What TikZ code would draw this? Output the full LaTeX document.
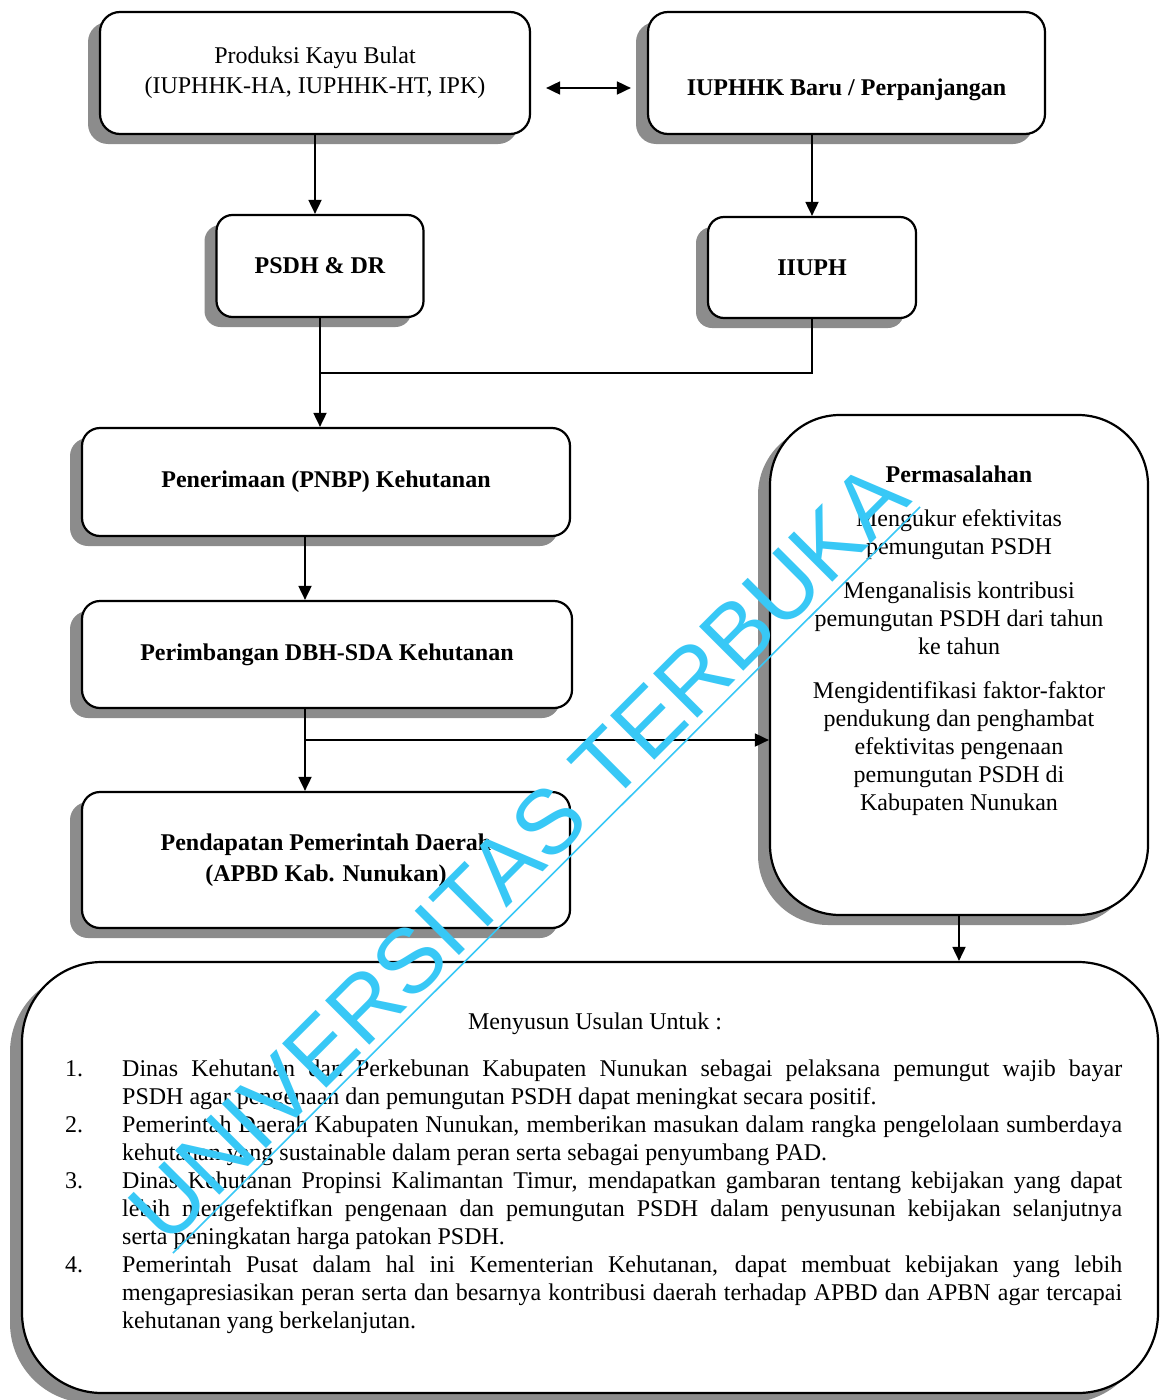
\documentclass[tikz,border=0pt]{standalone}
\usepackage{fontspec}
\setmainfont{Liberation Serif}
\newfontfamily\wmfont{Liberation Sans}
\usetikzlibrary{arrows.meta,shadows,calc}
\definecolor{wmcyan}{RGB}{56,200,246}
\begin{document}
\begin{tikzpicture}[x=1pt,y=1pt,
  boxnode/.style={draw=black, line width=2.2pt, rounded corners=20pt, fill=white, align=center, inner sep=0pt,
     drop shadow={shadow xshift=-12pt, shadow yshift=-10pt, fill=black, opacity=.45}},
  bignode/.style={boxnode, rounded corners=70pt},
  arr/.style={line width=1.8pt, -{Triangle[length=14pt,width=13pt]}},
  dbl/.style={line width=1.8pt, {Triangle[length=14pt,width=13pt]}-{Triangle[length=14pt,width=13pt]}},
  lin/.style={line width=1.8pt},
  rg/.style={font=\fontsize{24}{30}\selectfont},
  bf/.style={font=\bfseries\fontsize{24}{31}\selectfont},
  txt/.style={font=\fontsize{24}{28}\selectfont, inner sep=0pt}
]
\useasboundingbox (0,0) rectangle (1160,-1400);
\fill[white] (0,0) rectangle (1160,-1400);

% top row
\node[boxnode, rg, minimum width=430pt, minimum height=122pt] (prod) at (315,-73) {Produksi Kayu Bulat\\(IUPHHK-HA, IUPHHK-HT, IPK)};
\node[boxnode, bf, minimum width=397pt, minimum height=122pt, text height=50pt, text depth=5pt] (baru) at (846.5,-73) {IUPHHK Baru / Perpanjangan};

% second row
\node[boxnode, bf, rounded corners=16pt, minimum width=207pt, minimum height=102pt] (psdh) at (320,-266) {PSDH \& DR};
\node[boxnode, bf, rounded corners=16pt, minimum width=208pt, minimum height=101pt] (iiuph) at (812,-267.5) {IIUPH};

% left column
\node[boxnode, bf, rounded corners=18pt, minimum width=488pt, minimum height=108pt] (pnbp) at (326,-482) {Penerimaan (PNBP) Kehutanan};
\node[boxnode, bf, rounded corners=18pt, minimum width=490pt, minimum height=107pt] (dbh) at (327,-654.5) {Perimbangan DBH-SDA Kehutanan};
\node[boxnode, bf, rounded corners=18pt, minimum width=488pt, minimum height=136pt] (apbd) at (326,-860) {Pendapatan Pemerintah Daerah\\(APBD Kab. Nunukan)};

% right big box
\node[bignode, minimum width=378pt, minimum height=500pt] (perm) at (959,-665) {};
\node[txt, anchor=north, align=center] (permtxt) at (959,-466) {\textbf{Permasalahan}\\[16pt]
Mengukur efektivitas\\ pemungutan PSDH\\[16pt]
Menganalisis kontribusi\\ pemungutan PSDH dari tahun\\ ke tahun\\[16pt]
Mengidentifikasi faktor-faktor\\ pendukung dan penghambat\\ efektivitas pengenaan\\ pemungutan PSDH di\\ Kabupaten Nunukan};

% bottom box
\node[bignode, rounded corners=80pt, minimum width=1136pt, minimum height=431pt] (usul) at (590,-1177.5) {};
\node[txt] (ustitle) at (595,-1024) {Menyusun Usulan Untuk :};
\node[txt, anchor=north west, align=left] (uslist) at (65,-1060) {%
\makebox[57pt][l]{1.}\makebox[1000pt][s]{Dinas Kehutanan dan Perkebunan Kabupaten Nunukan sebagai pelaksana pemungut wajib bayar}\\
\hspace*{57pt}PSDH agar pengenaan dan pemungutan PSDH dapat meningkat secara positif.\\
\makebox[57pt][l]{2.}\makebox[1000pt][s]{Pemerintah Daerah Kabupaten Nunukan, memberikan masukan dalam rangka pengelolaan sumberdaya}\\
\hspace*{57pt}kehutanan yang sustainable dalam peran serta sebagai penyumbang PAD.\\
\makebox[57pt][l]{3.}\makebox[1000pt][s]{Dinas Kehutanan Propinsi Kalimantan Timur, mendapatkan gambaran tentang kebijakan yang dapat}\\
\hspace*{57pt}\makebox[1000pt][s]{lebih mengefektifkan pengenaan dan pemungutan PSDH dalam penyusunan kebijakan selanjutnya}\\
\hspace*{57pt}serta peningkatan harga patokan PSDH.\\
\makebox[57pt][l]{4.}\makebox[1000pt][s]{Pemerintah Pusat dalam hal ini Kementerian Kehutanan, dapat membuat kebijakan yang lebih}\\
\hspace*{57pt}\makebox[1000pt][s]{mengapresiasikan peran serta dan besarnya kontribusi daerah terhadap APBD dan APBN agar tercapai}\\
\hspace*{57pt}kehutanan yang berkelanjutan.};

% connectors
\draw[dbl] ([xshift=15pt,yshift=-15pt]prod.east) -- ([xshift=-16pt,yshift=-15pt]baru.west);
\draw[arr] (prod.south) -- (prod.south |- psdh.north);
\draw[arr] (baru.south -| iiuph.north) -- (iiuph.north);
\draw[arr] (psdh.south) -- (psdh.south |- pnbp.north);
\coordinate (j1) at (320,-373);
\draw[lin] (iiuph.south) |- (j1);
\coordinate (sp) at (305,-560);
\draw[arr] (pnbp.south -| sp) -- (dbh.north -| sp);
\draw[arr] (dbh.south -| sp) -- (apbd.north -| sp);
\coordinate (br) at (305,-740);
\draw[arr] (br) -- (br -| perm.west);
\draw[arr] (perm.south) -- (perm.south |- usul.north);

% watermark
\coordinate (wa) at (173,-1253);
\coordinate (wb) at (920,-507);
\draw[wmcyan, line width=1.6pt] (wa) -- (wb);
\node[rotate=45, anchor=base, inner sep=0pt, text=wmcyan, font=\wmfont\fontsize{91}{91}\selectfont] (wm) at ($(wa)!0.5!(wb)+(-5.7,5.7)$) {UNIVERSITAS TERBUKA};
\end{tikzpicture}
\end{document}
